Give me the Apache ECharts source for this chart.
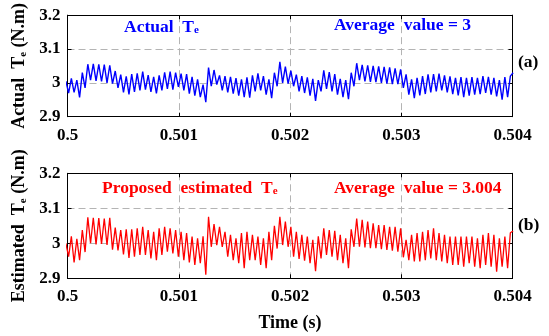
<!DOCTYPE html>
<html>
<head>
<meta charset="utf-8">
<script src="https://cdn.jsdelivr.net/npm/echarts@6/dist/echarts.min.js"></script>
<style>
html,body{margin:0;padding:0;background:#fff;}
#c{width:549px;height:336px;}
</style>
</head>
<body>
<div id="c"></div>
<script>
// Sample timing: successive extrema (peak/trough) of the ripple
const T_START = 0.4999853;
const HALF_STEP = 0.000024663;

const xTicks = [0.5, 0.501, 0.502, 0.503, 0.504];
const yTicks = [2.9, 3.0, 3.1, 3.2];

// Actual Te (blue), value at each successive extremum
const actualTe = [
 3.005, 2.970, 3.013, 2.972, 3.008, 2.957, 3.030, 2.985, 3.055, 3.008,
 3.056, 3.006, 3.055, 3.004, 3.054, 3.000, 3.052, 2.998, 3.035, 2.985,
 3.024, 2.972, 3.019, 2.966, 3.026, 2.973, 3.028, 2.978, 3.033, 2.980,
 3.023, 2.973, 3.018, 2.969, 3.022, 2.978, 3.031, 2.982, 3.033, 2.980,
 3.030, 2.988, 3.027, 2.978, 3.026, 2.968, 3.018, 2.962, 3.010, 2.958,
 2.995, 2.943, 3.045, 2.990, 3.038, 2.995, 3.022, 2.978, 3.020, 2.972,
 3.018, 2.968, 3.014, 2.962, 3.010, 2.958, 3.016, 2.956, 3.022, 2.975,
 3.028, 2.978, 3.020, 2.965, 3.010, 2.955, 3.030, 2.990, 3.062, 3.000,
 3.048, 2.998, 3.036, 2.990, 3.024, 2.975, 3.020, 2.970, 3.016, 2.962,
 3.012, 2.947, 3.008, 2.975, 3.037, 2.982, 3.032, 2.975, 3.026, 2.965,
 3.012, 2.958, 3.008, 2.952, 3.030, 2.990, 3.058, 3.008, 3.053, 3.004,
 3.052, 3.003, 3.050, 3.002, 3.049, 3.000, 3.047, 2.998, 3.046, 2.996,
 3.043, 2.996, 3.040, 2.985, 3.025, 2.965, 3.010, 2.955, 3.015, 2.963,
 3.020, 2.967, 3.025, 2.972, 3.026, 2.975, 3.027, 2.978, 3.022, 2.972,
 3.019, 2.967, 3.015, 2.963, 3.017, 2.958, 3.015, 2.962, 3.017, 2.965,
 3.015, 2.967, 3.020, 2.970, 3.018, 2.965, 3.015, 2.960, 3.008, 2.950,
 3.017, 2.958, 3.020, 3.030
];

// Proposed estimated Te (red)
const estimatedTe = [
 3.000, 2.962, 3.020, 2.945, 3.013, 2.952, 3.038, 2.975, 3.074, 3.000,
 3.073, 2.997, 3.072, 2.998, 3.071, 2.995, 3.073, 2.982, 3.045, 2.980,
 3.038, 2.968, 3.040, 2.958, 3.040, 2.962, 3.043, 2.967, 3.047, 2.967,
 3.038, 2.957, 3.033, 2.952, 3.043, 2.967, 3.047, 2.976, 3.043, 2.971,
 3.038, 2.962, 3.033, 2.952, 3.029, 2.945, 3.019, 2.938, 3.014, 2.943,
 3.020, 2.910, 3.076, 2.990, 3.055, 2.995, 3.047, 2.990, 3.033, 2.962,
 3.024, 2.952, 3.014, 2.943, 3.029, 2.929, 3.033, 2.952, 3.024, 2.952,
 3.019, 2.938, 3.014, 2.929, 3.033, 2.952, 3.050, 2.985, 3.076, 2.995,
 3.062, 2.990, 3.047, 2.962, 3.033, 2.955, 3.024, 2.950, 3.019, 2.943,
 3.010, 2.920, 3.020, 2.957, 3.043, 2.967, 3.038, 2.962, 3.036, 2.952,
 3.024, 2.943, 3.014, 2.929, 3.040, 2.990, 3.071, 2.990, 3.067, 2.988,
 3.062, 2.986, 3.057, 2.986, 3.052, 2.983, 3.052, 2.981, 3.047, 2.979,
 3.047, 2.976, 3.043, 2.960, 3.010, 2.952, 3.024, 2.948, 3.029, 2.948,
 3.033, 2.952, 3.038, 2.957, 3.043, 2.952, 3.029, 2.948, 3.024, 2.943,
 3.019, 2.938, 3.019, 2.938, 3.019, 2.933, 3.019, 2.943, 3.019, 2.933,
 3.014, 2.929, 3.024, 2.938, 3.029, 2.933, 3.024, 2.919, 3.014, 2.933,
 3.019, 2.929, 3.030, 3.035
];

const FONT = "'Liberation Serif','Times New Roman',serif";
const FS_TICK = 17;
const FS_NOTE = 17.5;
const FS_TITLE = 18;

const times = actualTe.map((_, i) => T_START + i * HALF_STEP);
const actualData = times.map((t, i) => [t, actualTe[i]]);
const estimatedData = times.map((t, i) => [t, estimatedTe[i]]);

function richFor(color, size) {
  return {
    n: {fontFamily: FONT, fontWeight: 'bold', fontSize: size, color: color, lineHeight: Math.round(size * 1.2), verticalAlign: 'bottom'},
    s: {fontFamily: FONT, fontWeight: 'bold', fontSize: Math.round(size * 0.62), color: color, lineHeight: Math.round(size * 0.62), verticalAlign: 'bottom'}
  };
}

const gridDefs = [
  {left: 67.5, width: 445, top: 11.7, height: 105},
  {left: 67.5, width: 445, top: 173.3, height: 105}
];

function mainX(gi, withName) {
  return {
    type: 'value', gridIndex: gi, position: 'bottom',
    min: xTicks[0], max: xTicks[xTicks.length - 1], interval: 0.001,
    axisLine: {show: true, onZero: false, lineStyle: {color: '#000', width: 1}},
    axisTick: {show: true, inside: true, length: 4, lineStyle: {color: '#000'}},
    axisLabel: {show: true, margin: 10, color: '#000', fontFamily: FONT, fontWeight: 'bold', fontSize: FS_TICK,
      formatter: v => String(+v.toFixed(3))},
    splitLine: {show: true, lineStyle: {color: '#b4b4b4', width: 1, type: [7, 4]}},
    name: withName ? '{n|Time (s)}' : '',
    nameLocation: 'middle', nameGap: 32,
    nameTextStyle: {rich: richFor('#000', FS_TITLE)}
  };
}
function boxX(gi) {
  return {
    type: 'value', gridIndex: gi, position: 'top',
    min: xTicks[0], max: xTicks[xTicks.length - 1], interval: 0.001,
    axisLine: {show: true, onZero: false, lineStyle: {color: '#000', width: 1}},
    axisTick: {show: true, inside: true, length: 4, lineStyle: {color: '#000'}},
    axisLabel: {show: false}, splitLine: {show: false}
  };
}
function mainY(gi, nameText) {
  return {
    type: 'value', gridIndex: gi, position: 'left',
    min: yTicks[0], max: yTicks[yTicks.length - 1], interval: 0.1,
    axisLine: {show: true, onZero: false, lineStyle: {color: '#000', width: 1}},
    axisTick: {show: true, inside: true, length: 4, lineStyle: {color: '#000'}},
    axisLabel: {show: true, margin: 7, color: '#000', fontFamily: FONT, fontWeight: 'bold', fontSize: FS_TICK,
      formatter: v => String(+v.toFixed(1))},
    splitLine: {show: true, lineStyle: {color: '#b4b4b4', width: 1, type: [7, 4]}},
    name: nameText, nameLocation: 'middle', nameGap: 37, nameRotate: 90,
    nameTextStyle: {rich: richFor('#000', FS_TITLE)}
  };
}
function boxY(gi) {
  return {
    type: 'value', gridIndex: gi, position: 'right',
    min: yTicks[0], max: yTicks[yTicks.length - 1], interval: 0.1,
    axisLine: {show: true, onZero: false, lineStyle: {color: '#000', width: 1}},
    axisTick: {show: true, inside: true, length: 4, lineStyle: {color: '#000'}},
    axisLabel: {show: false}, splitLine: {show: false}
  };
}

function label(text, left, top, color) {
  return {
    type: 'text', left: left, top: top, silent: true,
    style: {text: text, rich: richFor(color, FS_NOTE), fill: color}
  };
}

const chart = echarts.init(document.getElementById('c'), null, {renderer: 'canvas'});
chart.setOption({
  animation: false,
  backgroundColor: '#fff',
  grid: gridDefs,
  xAxis: [mainX(0, false), boxX(0), mainX(1, true), boxX(1)],
  yAxis: [
    mainY(0, '{n|Actual  T}{s|e}{n| (N.m)}'), boxY(0),
    mainY(1, '{n|Estimated  T}{s|e}{n| (N.m)}'), boxY(1)
  ],
  series: [
    {type: 'line', xAxisIndex: 0, yAxisIndex: 0, data: actualData, showSymbol: false, clip: true,
     lineStyle: {color: '#0000ff', width: 1.4}, itemStyle: {color: '#0000ff'}},
    {type: 'line', xAxisIndex: 2, yAxisIndex: 2, data: estimatedData, showSymbol: false, clip: true,
     lineStyle: {color: '#ff0000', width: 1.3}, itemStyle: {color: '#ff0000'}}
  ],
  graphic: [
    label('{n|Actual  T}{s|e}', 124, 18, '#0000ff'),
    label('{n|Average  value = 3}', 334, 16, '#0000ff'),
    label('{n|Proposed  estimated  T}{s|e}', 102, 179, '#ff0000'),
    label('{n|Average  value = 3.004}', 334, 179, '#ff0000'),
    label('{n|(a)}', 518, 53, '#000'),
    label('{n|(b)}', 518, 216, '#000')
  ]
});
</script>
</body>
</html>
